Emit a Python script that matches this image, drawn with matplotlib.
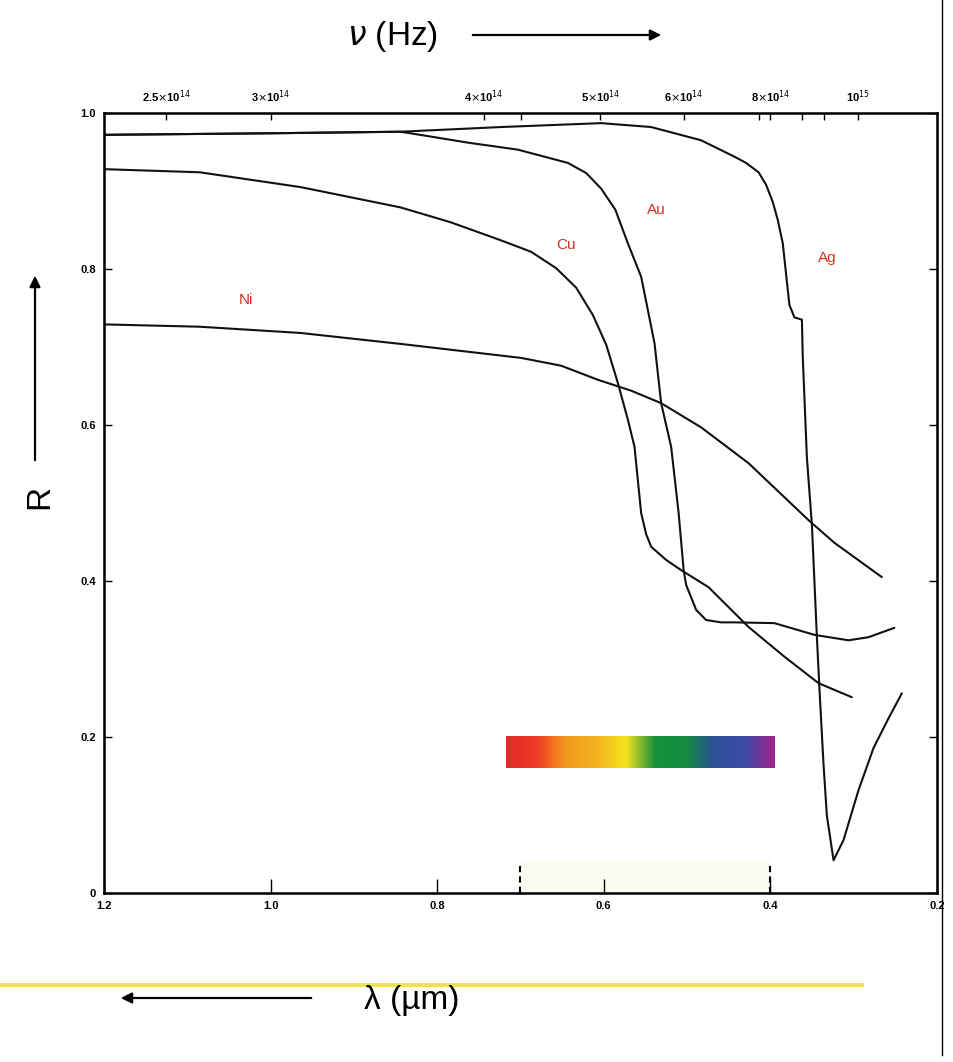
import matplotlib
matplotlib.use("Agg")
from matplotlib import pyplot as plt
from matplotlib.colors import LinearSegmentedColormap
from matplotlib.lines import Line2D
import numpy as np

plt.rcParams['font.family'] = ['Liberation Sans', 'DejaVu Sans']

# reflectance curves (wavelength in um, R)
ni_lam = [1.2, 1.085, 0.964, 0.844, 0.699, 0.651, 0.607, 0.567, 0.531, 0.483, 0.426,
          0.354, 0.323, 0.266]
ni_R = [0.729, 0.726, 0.718, 0.704, 0.686, 0.676, 0.658, 0.644, 0.628, 0.597, 0.551,
        0.478, 0.449, 0.405]

cu_lam = [1.2, 1.085, 0.964, 0.844, 0.784, 0.724, 0.687, 0.657, 0.633, 0.613, 0.597,
          0.583, 0.571, 0.563, 0.555, 0.549, 0.543, 0.525, 0.507, 0.474, 0.426, 0.383,
          0.342, 0.302]
cu_R = [0.928, 0.924, 0.905, 0.879, 0.860, 0.837, 0.822, 0.801, 0.776, 0.741, 0.703,
        0.654, 0.607, 0.572, 0.487, 0.460, 0.444, 0.427, 0.414, 0.392, 0.341, 0.303,
        0.269, 0.251]

au_lam = [1.2, 1.0, 0.844, 0.832, 0.763, 0.703, 0.643, 0.621, 0.603, 0.586, 0.571, 0.555,
          0.539, 0.531, 0.519, 0.510, 0.504, 0.501, 0.489, 0.477, 0.459, 0.443, 0.395,
          0.347, 0.306, 0.282, 0.251]
au_R = [0.972, 0.974, 0.976, 0.974, 0.962, 0.953, 0.936, 0.923, 0.903, 0.876, 0.833, 0.790,
        0.705, 0.628, 0.572, 0.487, 0.414, 0.395, 0.363, 0.350, 0.347, 0.347, 0.346,
        0.331, 0.324, 0.328, 0.340]

ag_lam = [1.2, 1.0, 0.844, 0.723, 0.603, 0.543, 0.483, 0.443, 0.429, 0.414, 0.405, 0.397,
          0.391, 0.385, 0.377, 0.371, 0.362, 0.361, 0.356, 0.350, 0.344, 0.341, 0.336,
          0.332, 0.324, 0.312, 0.294, 0.276, 0.258, 0.242]
ag_R = [0.972, 0.974, 0.976, 0.982, 0.987, 0.982, 0.965, 0.944, 0.936, 0.924, 0.908, 0.886,
        0.863, 0.833, 0.754, 0.738, 0.735, 0.688, 0.558, 0.472, 0.328, 0.263, 0.164,
        0.099, 0.042, 0.068, 0.132, 0.186, 0.224, 0.256]

metal_names = ["Ni", "Cu", "Au", "Ag"]
label_lam = [1.03, 0.645, 0.537, 0.331]
label_R = [0.76, 0.831, 0.876, 0.814]

# axis ticks
lam_ticks = [1.2, 1.0, 0.8, 0.6, 0.4, 0.2]
lam_labels = ["1.2", "1.0", "0.8", "0.6", "0.4", "0.2"]
r_ticks = [0, 0.2, 0.4, 0.6, 0.8, 1.0]
r_labels = ["0", "0.2", "0.4", "0.6", "0.8", "1.0"]
freq_lam = [1.125, 1.0, 0.744, 0.604, 0.504, 0.40, 0.295]
freq_labels = [r"2.5$\times$10$^{14}$", r"3$\times$10$^{14}$", r"4$\times$10$^{14}$",
               r"5$\times$10$^{14}$", r"6$\times$10$^{14}$", r"8$\times$10$^{14}$",
               r"10$^{15}$"]
freq_minor = [0.699, 0.414, 0.362, 0.336]

# visible spectrum strip
visible_lo, visible_hi = 0.717, 0.395
spectrum_colors = ["#e42a2a", "#ef3a24", "#f39a1e", "#f2b21e", "#f5e41c", "#15903c",
                   "#138c3e", "#2c4f9a", "#3c4aa8", "#a0238c"]
visible_marks = [0.7, 0.4]

fig = plt.figure(figsize=(9.54, 10.62), dpi=100)
ax = fig.add_axes([0.109, 0.1591, 0.873, 0.7345])

for lam, R in [(ni_lam, ni_R), (cu_lam, cu_R), (au_lam, au_R), (ag_lam, ag_R)]:
    ax.plot(lam, R, color="#111111", lw=1.5, solid_joinstyle="round", solid_capstyle="round")

for name, x, y in zip(metal_names, label_lam, label_R):
    ax.text(x, y, name, color="#d0301e", fontsize=11, ha="center", va="center")

cmap = LinearSegmentedColormap.from_list("vis", spectrum_colors)
ax.imshow(np.linspace(0, 1, 256)[None, :], cmap=cmap, aspect="auto",
          extent=[visible_lo, visible_hi, 0.16, 0.20], zorder=2)
ax.axvspan(visible_marks[0], visible_marks[1], ymin=0, ymax=0.045, color="#fcfcf3", lw=0, zorder=0)
for m in visible_marks:
    ax.plot([m, m], [0.0, 0.04], color="black", lw=1.5, ls=(0, (3, 2)))

ax.set_xlim(1.2, 0.2)
ax.set_ylim(0, 1.0)
ax.set_xticks(lam_ticks)
ax.set_xticklabels(lam_labels, fontsize=8, fontweight="bold")
ax.set_yticks(r_ticks)
ax.set_yticklabels(r_labels, fontsize=8, fontweight="bold")
ax.tick_params(axis="x", direction="in", length=10, width=1, pad=6)
ax.tick_params(axis="y", direction="in", length=6, width=1, right=True, pad=6)
for s in ax.spines.values():
    s.set_linewidth(1.8)

top = ax.twiny()
top.set_xlim(1.2, 0.2)
top.set_xticks(freq_lam)
top.set_xticklabels(freq_labels, fontsize=8, fontweight="bold")
top.set_xticks(freq_minor, minor=True)
top.tick_params(axis="x", which="both", direction="in", length=5, width=1, pad=6)

# axis titles with arrows, drawn in figure pixels
def fx(px):
    return px / 954.0

def fy(py):
    return 1 - py / 1062.0

arrow = dict(arrowstyle="-|>", color="black", lw=1.6, mutation_scale=16)
fig.text(fx(392), fy(36), r"$\nu$ (Hz)", fontsize=24, ha="center", va="center")
ax.annotate("", xy=(fx(664), fy(35)), xytext=(fx(470), fy(35)), xycoords="figure fraction",
            arrowprops=arrow, annotation_clip=False)
fig.text(fx(40), fy(497), "R", fontsize=24, rotation=90, ha="center", va="center")
ax.annotate("", xy=(fx(35), fy(273)), xytext=(fx(35), fy(463)), xycoords="figure fraction",
            arrowprops=arrow, annotation_clip=False)
fig.text(fx(412), fy(1000), "λ (µm)", fontsize=24, ha="center", va="center")
ax.annotate("", xy=(fx(118), fy(998)), xytext=(fx(314), fy(998)), xycoords="figure fraction",
            arrowprops=arrow, annotation_clip=False)

fig.add_artist(Line2D([0, fx(862)], [fy(985), fy(985)], color="#efe24a", lw=3))
fig.add_artist(Line2D([fx(942), fx(942)], [fy(0), fy(1055)], color="black", lw=1.0))

fig.savefig("out.png", dpi=100)
